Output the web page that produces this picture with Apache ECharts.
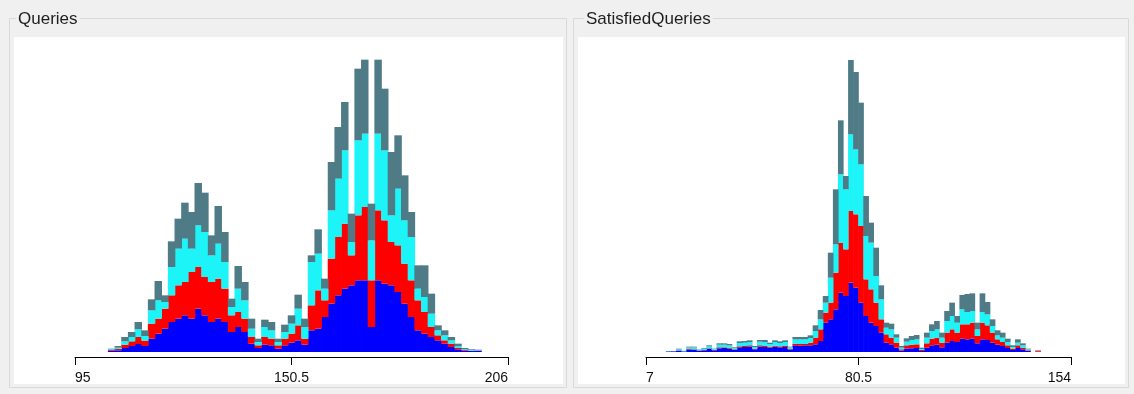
<!DOCTYPE html>
<html>
<head>
<meta charset="utf-8">
<script src="https://cdn.jsdelivr.net/npm/echarts@6/dist/echarts.min.js"></script>
<style>
  html, body { margin: 0; padding: 0; background: #f0f0f0; }
  #chart { width: 1134px; height: 394px; }
</style>
</head>
<body>
<div id="chart"></div>
<script>
// ---- Queries histogram: 65 bins over 95..206, four stacked groups per bin ----
const queriesRange = [95, 206];
const queriesTicks = [95, 150.5, 206];
const queriesBlue = [0,0,0,0,0,4,5,12,18,24,18,40,55,70,90,100,110,100,130,110,90,100,90,60,75,60,25,12,22,20,10,20,28,35,22,65,70,105,145,170,190,200,215,215,75,215,205,200,180,145,105,65,55,45,35,25,15,8,4,3,3,0,0,0,0];
const queriesRed  = [0,0,0,0,0,2,4,10,14,21,16,45,45,60,80,100,100,140,125,115,120,120,100,50,45,40,20,8,23,20,10,20,27,45,18,75,115,50,135,175,195,90,195,220,140,210,190,130,140,120,110,90,65,30,15,10,10,4,2,1,1,0,0,0,0];
const queriesCyan = [0,0,0,0,0,2,4,10,13,23,14,40,55,20,85,110,130,70,125,135,80,105,80,25,70,55,25,10,30,25,10,20,30,50,35,130,110,35,145,175,220,40,225,220,120,230,210,80,170,130,130,35,45,40,15,15,10,5,2,2,1,0,0,0,0];
const queriesTeal = [0,0,0,0,0,2,5,13,15,22,17,33,58,20,77,90,108,110,127,118,60,113,90,25,68,55,30,10,22,25,10,22,25,42,25,20,73,30,145,155,145,85,215,222,110,222,185,190,160,135,75,70,95,60,15,15,10,8,4,2,2,0,0,0,0];

// ---- SatisfiedQueries histogram: 84 bins over 7..154 ----
const satisfiedRange = [7, 154];
const satisfiedTicks = [7, 80.5, 154];
const satisfiedBlue = [0,0,0,0,2,2,4,2,7,6,4,5,9,5,11,12,10,6,14,15,16,8,16,15,13,16,14,15,7,20,19,20,20,23,33,88,98,128,178,168,208,193,148,108,88,78,58,28,23,13,4,10,11,12,3,13,20,22,14,28,33,30,40,38,40,26,38,36,28,22,18,12,6,12,8,3,0,1,0,0,0,0,0,0];
const satisfiedRed  = [0,0,0,0,0,0,1,0,2,2,1,1,2,1,3,2,3,2,3,3,4,2,4,4,3,3,3,4,2,5,5,4,8,20,35,30,50,110,150,140,215,220,230,110,100,70,40,25,20,15,4,10,11,11,3,13,20,21,14,30,35,28,43,45,48,22,50,44,30,16,12,8,4,8,5,2,0,3,0,0,0,0,0,0];
const satisfiedCyan = [0,0,0,0,1,0,3,2,5,6,2,4,6,3,8,8,7,4,10,10,10,5,11,11,8,11,10,11,5,13,14,14,14,20,30,30,75,85,205,180,230,195,185,130,140,80,60,20,25,15,5,11,14,15,3,17,23,25,15,35,40,30,45,37,35,20,32,33,20,12,13,10,5,8,7,3,0,0,0,0,0,0,0,0];
const satisfiedTeal = [0,0,0,0,0,0,2,0,2,2,1,2,3,1,4,4,4,2,5,5,5,3,5,6,4,5,5,5,2,7,7,7,8,17,28,20,75,165,162,40,223,232,185,120,60,85,42,15,17,10,5,10,12,13,4,15,20,25,15,30,40,20,43,54,53,20,56,37,20,15,15,10,5,10,6,2,0,1,0,0,0,0,0,0];

const colors = { blue: '#0000ff', red: '#ff0000', cyan: '#1cf4f8', teal: '#4e7b86' };

// Category labels for the histogram bins (bin start values)
function binLabels(range, count) {
  const w = (range[1] - range[0]) / count;
  const out = [];
  for (let i = 0; i < count; i++) out.push((range[0] + i * w).toFixed(2));
  return out;
}

// One stacked bar series per group. Bars are slightly wider than their bin so
// neighbouring columns touch without anti-aliasing seams; empty bins are skipped.
function stackSeries(xIdx, yIdx, stack, layers) {
  return layers.map(([name, data, color]) => ({
    name, type: 'bar', stack,
    data: data.map(v => (v === 0 ? '-' : v)),
    xAxisIndex: xIdx, yAxisIndex: yIdx,
    barWidth: '112%', barGap: '-100%',
    itemStyle: { color },
    emphasis: { disabled: true },
    silent: true
  }));
}

const labelFont = { fontFamily: 'Liberation Sans', fontSize: 14, color: '#111' };

function tickAxis(gridIndex, range, ticks) {
  return {
    type: 'value', gridIndex, position: 'bottom', offset: 5,
    min: range[0], max: range[1],
    axisLine: { show: true, onZero: false, lineStyle: { color: '#000', width: 1 } },
    axisTick: { show: true, length: 8, customValues: ticks, lineStyle: { color: '#000' } },
    axisLabel: Object.assign({ customValues: ticks, margin: 14, alignMinLabel: 'left', alignMaxLabel: 'right', showMinLabel: true, showMaxLabel: true }, labelFont),
    splitLine: { show: false }
  };
}

const chart = echarts.init(document.getElementById('chart'), null, { renderer: 'canvas' });

chart.setOption({
  animation: false,
  backgroundColor: '#f0f0f0',
  graphic: [
    // left panel frame and plotting surface
    { type: 'rect', z: -10, shape: { x: 9.5, y: 18.5, width: 557, height: 369 }, style: { fill: '#f0f0f0', stroke: '#d9d9d9', lineWidth: 1 } },
    { type: 'rect', z: -9, shape: { x: 14, y: 37, width: 549, height: 347 }, style: { fill: '#ffffff' } },
    { type: 'text', z: -8, left: 16, top: 11, style: { text: 'Queries', font: '17px "Liberation Sans"', fill: '#1e1e1e', backgroundColor: '#f0f0f0', padding: [0, 2] } },
    // right panel frame and plotting surface
    { type: 'rect', z: -10, shape: { x: 573.5, y: 18.5, width: 555, height: 369 }, style: { fill: '#f0f0f0', stroke: '#d9d9d9', lineWidth: 1 } },
    { type: 'rect', z: -9, shape: { x: 578, y: 37, width: 547, height: 347 }, style: { fill: '#ffffff' } },
    { type: 'text', z: -8, left: 584, top: 11, style: { text: 'SatisfiedQueries', font: '17px "Liberation Sans"', fill: '#1e1e1e', backgroundColor: '#f0f0f0', padding: [0, 2] } }
  ],
  grid: [
    { left: 75, width: 433, top: 52, height: 300, containLabel: false },
    { left: 646, width: 425, top: 52, height: 300, containLabel: false }
  ],
  xAxis: [
    { type: 'category', gridIndex: 0, data: binLabels(queriesRange, queriesBlue.length), show: false, boundaryGap: true },
    tickAxis(0, queriesRange, queriesTicks),
    { type: 'category', gridIndex: 1, data: binLabels(satisfiedRange, satisfiedBlue.length), show: false, boundaryGap: true },
    tickAxis(1, satisfiedRange, satisfiedTicks)
  ],
  yAxis: [
    { type: 'value', gridIndex: 0, min: 0, max: 900, show: false },
    { type: 'value', gridIndex: 1, min: 0, max: 900, show: false }
  ],
  series: [
    ...stackSeries(0, 0, 'queries', [
      ['Blue', queriesBlue, colors.blue],
      ['Red', queriesRed, colors.red],
      ['Cyan', queriesCyan, colors.cyan],
      ['Teal', queriesTeal, colors.teal]
    ]),
    ...stackSeries(2, 1, 'satisfied', [
      ['Blue', satisfiedBlue, colors.blue],
      ['Red', satisfiedRed, colors.red],
      ['Cyan', satisfiedCyan, colors.cyan],
      ['Teal', satisfiedTeal, colors.teal]
    ])
  ]
});
</script>
</body>
</html>
